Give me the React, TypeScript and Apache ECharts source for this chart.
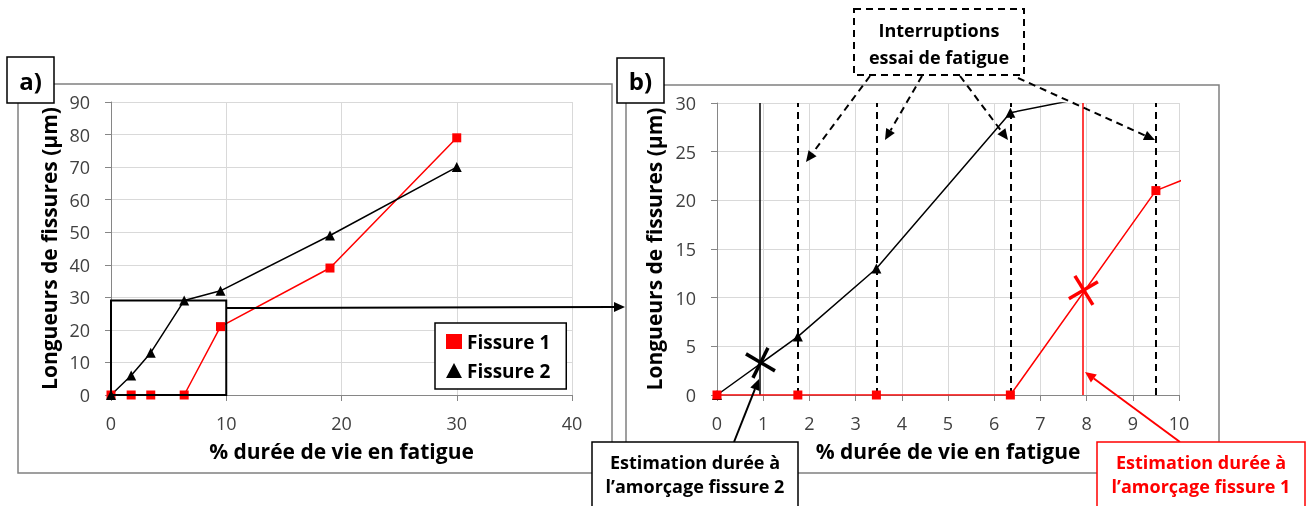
import React, { useEffect, useRef } from 'react';
import * as echarts from 'echarts';

// ---- data ----
const xPct = [0, 1.75, 3.45, 6.35, 9.5, 19, 30];
const fissure1 = [0, 0, 0, 0, 21, 39, 79];
const fissure2 = [0, 6, 13, 29, 32, 49, 70];
const interruptions = [1.75, 3.45, 6.35, 9.5];
const amorcage2 = [0.93, 3.3];
const amorcage1 = [7.92, 10.7];
const zoomBox = [0, 0, 10, 29];
const seriesNames = ['Fissure 1', 'Fissure 2'];
const xTitle = '% durée de vie en fatigue';
const yTitle = 'Longueurs de fissures (µm)';

const FONT = '"Open Sans", Lato, sans-serif';
const RED = '#ff0000';

function pairs(xs: number[], ys: number[]) {
  return xs.map((x, i) => [x, ys[i]]);
}

function arrow(x1: number, y1: number, x2: number, y2: number, color: string, dashed: boolean, width = 2, hl = 11, hw = 5) {
  const dx = x2 - x1, dy = y2 - y1;
  const len = Math.sqrt(dx * dx + dy * dy);
  const ux = dx / len, uy = dy / len;
  const bx = x2 - ux * hl, by = y2 - uy * hl;
  const px = -uy, py = ux;
  return [
    {
      type: 'line', z: 100,
      shape: { x1, y1, x2: bx, y2: by },
      style: { stroke: color, lineWidth: width, lineDash: dashed ? [7, 5] : null },
    },
    {
      type: 'polygon', z: 100,
      shape: { points: [[x2, y2], [bx + px * hw, by + py * hw], [bx - px * hw, by - py * hw]] },
      style: { fill: color },
    },
  ];
}

function textBox(x: number, y: number, w: number, h: number, text: string, color: string, fontSize: number, dashed = false, tx?: number, ty?: number, lh = 1.4) {
  return [
    {
      type: 'rect', z: 110,
      shape: { x, y, width: w, height: h },
      style: { fill: '#fff', stroke: color, lineWidth: dashed ? 2 : 1.5, lineDash: dashed ? [7, 5] : null },
    },
    {
      type: 'text', z: 111,
      x: tx ?? x + w / 2, y: ty ?? y + h / 2,
      style: {
        text, fill: color, font: `bold ${fontSize}px ${FONT}`,
        align: 'center', verticalAlign: 'middle', lineHeight: fontSize * lh,
      },
    },
  ];
}

function crossSeries(pt: number[], color: string, segs: number[][]) {
  return {
    type: 'custom', xAxisIndex: 1, yAxisIndex: 1, z: 20, silent: true,
    data: [pt],
    renderItem: (params: any, api: any) => {
      const p = api.coord([api.value(0), api.value(1)]);
      return {
        type: 'group',
        children: segs.map((s) => ({
          type: 'line',
          shape: { x1: p[0] + s[0], y1: p[1] + s[1], x2: p[0] + s[2], y2: p[1] + s[3] },
          style: { stroke: color, lineWidth: 3.5 },
        })),
      };
    },
  };
}

function axisCommon(min: number, max: number, interval: number, margin: number) {
  return {
    type: 'value', min, max, interval,
    axisLine: { show: true, lineStyle: { color: '#868686', width: 1 } },
    axisTick: { show: true, length: 6, lineStyle: { color: '#868686' } },
    splitLine: { show: true, lineStyle: { color: '#d9d9d9', width: 1 } },
    axisLabel: { fontSize: 18, color: '#404040', fontFamily: FONT, margin },
    nameLocation: 'middle',
    nameTextStyle: { fontSize: 21, fontWeight: 'bold', color: '#000', fontFamily: FONT },
  };
}

export default function App() {
  const ref = useRef<HTMLDivElement>(null);
  useEffect(() => {
    if (!ref.current) return;
    const chart = echarts.init(ref.current, null, { renderer: 'svg' });
    const f1 = pairs(xPct, fissure1);
    const f2 = pairs(xPct, fissure2);

    const lineSeries = (name: string, data: number[][], gi: number, color: string, symbol: string, size: number, extra: any = {}) => ({
      type: 'line', name, data, xAxisIndex: gi, yAxisIndex: gi,
      symbol, symbolSize: size, clip: true,
      lineStyle: { color, width: 1.5 },
      itemStyle: { color },
      z: 10,
      ...extra,
    });

    const graphic: any[] = [
      { type: 'rect', z: 1, shape: { x: 18, y: 84, width: 594, height: 389 }, style: { fill: 'none', stroke: '#808080', lineWidth: 1.5 } },
      { type: 'rect', z: 1, shape: { x: 626, y: 85, width: 593, height: 388 }, style: { fill: 'none', stroke: '#808080', lineWidth: 1.5 } },
      ...arrow(226, 308, 625, 307, '#000', false, 2),
      ...arrow(870, 76, 806, 162, '#000', true, 2),
      ...arrow(922, 76, 885, 140, '#000', true, 2),
      ...arrow(960, 76, 1008, 140, '#000', true, 2),
      ...arrow(1018, 78, 1155, 140, '#000', true, 2),
      ...arrow(734, 442, 759, 379, '#000', false, 2),
      ...arrow(1180, 442, 1085, 372, RED, false, 2),
      ...textBox(7, 57, 47, 46, 'a)', '#000', 24),
      ...textBox(617, 58, 47, 45, 'b)', '#000', 24),
      ...textBox(854, 9, 170, 66, 'Interruptions\nessai de fatigue', '#000', 18, true, 939, 43, 1.5),
      ...textBox(592, 442, 206, 80, 'Estimation durée à\nl’amorçage fissure 2', '#000', 18, false, 695, 474, 1.35),
      ...textBox(1097, 442, 208, 80, 'Estimation durée à\nl’amorçage fissure 1', RED, 18, false, 1201, 474, 1.35),
    ];

    chart.setOption({
      animation: false,
      textStyle: { fontFamily: FONT },
      grid: [
        { left: 111, top: 102, width: 461, height: 293 },
        { left: 717, top: 103, width: 462, height: 292 },
      ],
      xAxis: [
        { ...axisCommon(0, 40, 10, 19), gridIndex: 0, name: xTitle, nameGap: 45 },
        { ...axisCommon(0, 10, 1, 19), gridIndex: 1, name: xTitle, nameGap: 45 },
      ],
      yAxis: [
        { ...axisCommon(0, 90, 10, 21), gridIndex: 0, name: yTitle, nameGap: 52 },
        { ...axisCommon(0, 30, 5, 21), gridIndex: 1, name: yTitle, nameGap: 53 },
      ],
      legend: {
        left: 435, top: 323,
        orient: 'vertical',
        padding: [9, 16, 9, 11],
        itemGap: 10, itemWidth: 16, itemHeight: 15,
        borderColor: '#000', borderWidth: 1.5, backgroundColor: '#fff',
        textStyle: { fontSize: 19, fontWeight: 'bold', color: '#000', fontFamily: FONT },
        data: [
          { name: seriesNames[0], icon: 'rect' },
          { name: seriesNames[1], icon: 'triangle' },
        ],
        z: 50,
      },
      graphic,
      series: [
        lineSeries(seriesNames[0], f1, 0, RED, 'rect', 9),
        lineSeries(seriesNames[1], f2, 0, '#000', 'triangle', 10),
        {
          type: 'custom', xAxisIndex: 0, yAxisIndex: 0, z: 15, silent: true,
          data: [zoomBox],
          encode: { x: [0, 2], y: [1, 3] },
          renderItem: (params: any, api: any) => {
            const a = api.coord([api.value(0), api.value(1)]);
            const b = api.coord([api.value(2), api.value(3)]);
            return {
              type: 'rect',
              shape: { x: a[0], y: b[1], width: b[0] - a[0], height: a[1] - b[1] },
              style: { fill: 'none', stroke: '#000', lineWidth: 2 },
            };
          },
        },
        lineSeries(seriesNames[0], f1, 1, RED, 'rect', 9, { z: 12 }),
        lineSeries(seriesNames[1], f2, 1, '#000', 'triangle', 10, {
          markLine: {
            silent: true, symbol: ['none', 'none'], label: { show: false },
            data: [
              ...interruptions.map((v) => ({ xAxis: v, lineStyle: { color: '#000', width: 2, type: [7, 5] } })),
              { xAxis: amorcage2[0], lineStyle: { color: '#000', width: 1.5, type: 'solid' } },
              { xAxis: amorcage1[0], lineStyle: { color: RED, width: 1.5, type: 'solid' } },
            ],
          },
        }),
        crossSeries(amorcage2, '#000', [[-14, -9, 15, 8], [8, -15, -7, 15]]),
        crossSeries(amorcage1, RED, [[-8, -15, 10, 14], [-14, 8, 15, -9]]),
      ],
    });
    return () => chart.dispose();
  }, []);
  return <div ref={ref} style={{ position: 'fixed', left: 0, top: 0, width: 1309, height: 506 }} />;
}
